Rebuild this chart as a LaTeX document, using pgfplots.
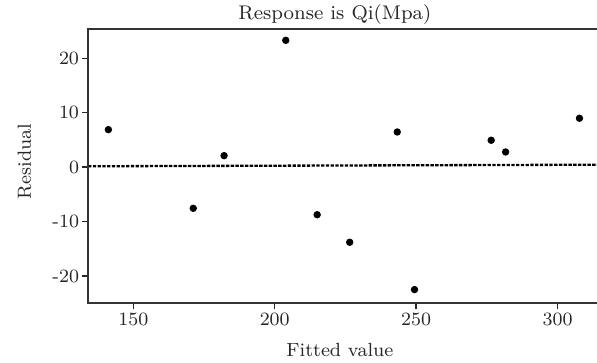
\documentclass[border=0pt]{standalone}
\usepackage{pgfplots}
\pgfplotsset{compat=1.18}
\begin{document}
\begin{tikzpicture}
\begin{axis}[
  scale only axis, width=208.69pt, height=112.34pt,
  xmin=134, xmax=313.9, ymin=-24.96, ymax=25.38,
  axis line style={draw=none},
  clip=false,
  xtick={150,200,250,300}, xticklabels={150,200,250,300},
  ytick={-20,-10,0,10,20}, yticklabels={-20,-10,0,10,20},
  tick align=outside, major tick length=2.5pt,
  xtick pos=left, ytick pos=left,
  tick style={line width=0.6pt, black!85},
  ticklabel style={font=\fontsize{7.7}{9}\selectfont, text=black!85},
  yticklabel style={inner sep=1pt},
  xticklabel style={inner sep=1.6pt},
  title={Response is Qi(Mpa)},
  every axis title/.style={at={(rel axis cs:0.485,1.0329)}, anchor=base, inner sep=0pt, font=\fontsize{8.1}{9.5}\selectfont, text=black!85},
  xlabel={Fitted value},
  every axis x label/.style={at={(rel axis cs:0.495,-0.1958)}, anchor=base, inner sep=0pt, font=\fontsize{7.8}{9.2}\selectfont, text=black!85},
  ylabel={Residual},
  every axis y label/.style={at={(rel axis cs:-0.1121,0.517)}, rotate=90, anchor=base, inner sep=0pt, font=\fontsize{7.8}{9.2}\selectfont, text=black!85},
]
\addplot[only marks, mark=*, mark size=1.3pt, black] coordinates {
  (141.2,6.89) (182.1,2.11) (203.9,23.3) (243.3,6.46) (276.5,4.94)
  (281.6,2.79) (307.7,8.98) (171.2,-7.56) (215.0,-8.74) (226.5,-13.8)
  (249.4,-22.5)
};
\addplot[black, line width=0.95pt, dash pattern=on 1.4pt off 0.55pt] coordinates {(134,0.16) (313.9,0.45)};
\draw[line width=0.75pt, black!80] (rel axis cs:1,1) -- (rel axis cs:0,1) -- (rel axis cs:0,0) -- (rel axis cs:1,0);
\end{axis}
\pgfresetboundingbox
\path (-36.08pt,-24.19pt) rectangle (208.69pt,124.23pt);
\end{tikzpicture}
\end{document}
